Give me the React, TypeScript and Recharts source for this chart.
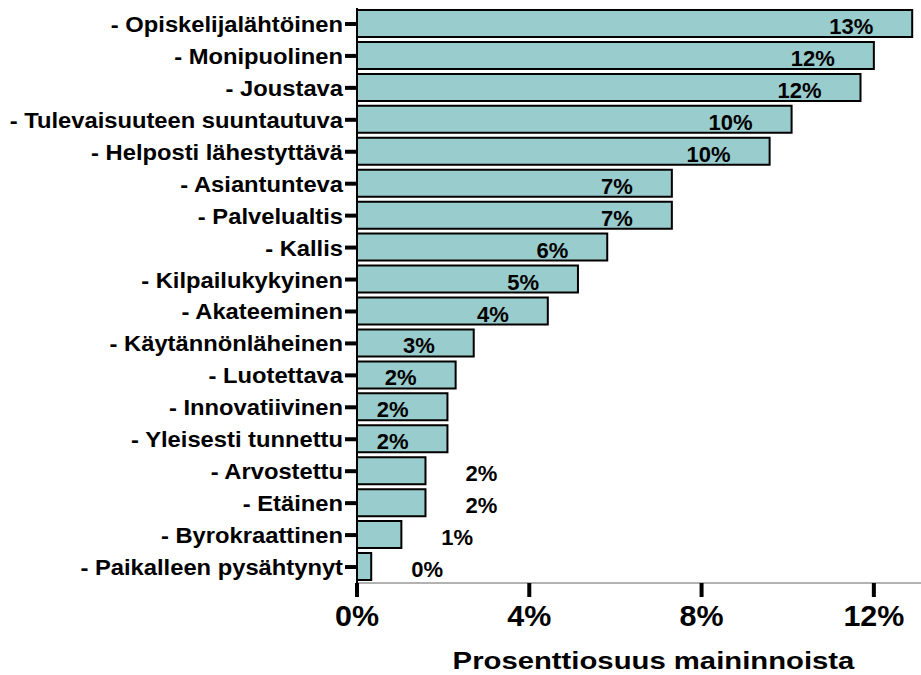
import { BarChart, Bar, XAxis, YAxis, LabelList, Label } from 'recharts'

const categories = [
  '- Opiskelijalähtöinen',
  '- Monipuolinen',
  '- Joustava',
  '- Tulevaisuuteen suuntautuva',
  '- Helposti lähestyttävä',
  '- Asiantunteva',
  '- Palvelualtis',
  '- Kallis',
  '- Kilpailukykyinen',
  '- Akateeminen',
  '- Käytännönläheinen',
  '- Luotettava',
  '- Innovatiivinen',
  '- Yleisesti tunnettu',
  '- Arvostettu',
  '- Etäinen',
  '- Byrokraattinen',
  '- Paikalleen pysähtynyt',
]

// prosenttia maininnoista
const shares = [12.89, 12.0, 11.69, 10.09, 9.58, 7.31, 7.31, 5.81, 5.13, 4.43, 2.71, 2.29, 2.1, 2.1, 1.59, 1.59, 1.03, 0.33]

const xTicks = [0, 4, 8, 12]

const FONT = '"Liberation Sans", Arial, Helvetica, sans-serif'

const data = categories.map((name, i) => ({ name, value: shares[i] }))

function CategoryTick({ x, y, payload }: any) {
  return (
    <text
      transform={`translate(${x},${y}) scale(1.08,1)`}
      textAnchor="end"
      dy={8}
      fontFamily={FONT}
      fontWeight="bold"
      fontSize={22}
      fill="#000"
    >
      {payload.value}
    </text>
  )
}

function PercentTick({ x, y, payload }: any) {
  return (
    <text
      transform={`translate(${x},${y}) scale(1.05,1)`}
      textAnchor="middle"
      dy={27}
      fontFamily={FONT}
      fontWeight="bold"
      fontSize={29}
      fill="#000"
    >
      {payload.value}%
    </text>
  )
}

function ValueLabel({ x, y, width, height, value }: any) {
  const inside = value >= 1.8
  const tx = inside ? x + width - 39 : x + width + 40
  return (
    <text
      x={tx}
      y={y + height / 2}
      dy={10.5}
      textAnchor={inside ? 'end' : 'start'}
      fontFamily={FONT}
      fontWeight="bold"
      fontSize={22}
      fill="#000"
    >
      {Math.round(value)}%
    </text>
  )
}

function AxisTitle({ viewBox }: any) {
  const cx = viewBox.x + viewBox.width / 2 - 5
  return (
    <text
      transform={`translate(${cx},${viewBox.y + 86}) scale(1.22,1)`}
      textAnchor="middle"
      fontFamily={FONT}
      fontWeight="bold"
      fontSize={24}
      fill="#000"
    >
      Prosenttiosuus maininnoista
    </text>
  )
}

export default function App() {
  return (
    <div style={{ position: 'absolute', left: 0, top: 0, width: 921, height: 675, overflow: 'hidden', background: '#fff' }}>
      <BarChart
        width={960}
        height={675}
        data={data}
        layout="vertical"
        margin={{ top: 8, right: 0, bottom: 0, left: 0 }}
        barSize={27}
      >
        <XAxis
          type="number"
          domain={[0, 14]}
          ticks={xTicks}
          height={92}
          tickSize={14}
          axisLine={{ stroke: '#999', strokeWidth: 1.5 }}
          tickLine={{ stroke: '#000', strokeWidth: 4 }}
          tick={<PercentTick />}
          interval={0}
        >
          <Label content={<AxisTitle />} />
        </XAxis>
        <XAxis
          xAxisId="top"
          orientation="top"
          type="number"
          domain={[0, 14]}
          height={0}
          tick={false}
          tickLine={false}
          axisLine={{ stroke: '#999', strokeWidth: 1.5 }}
        />
        <YAxis
          type="category"
          dataKey="name"
          width={357}
          tickSize={12}
          axisLine={{ stroke: '#000', strokeWidth: 2 }}
          tickLine={{ stroke: '#000', strokeWidth: 4 }}
          tick={<CategoryTick />}
          interval={0}
        />
        <Bar dataKey="value" fill="#99CCCC" stroke="#000" strokeWidth={2} isAnimationActive={false}>
          <LabelList dataKey="value" content={<ValueLabel />} />
        </Bar>
      </BarChart>
    </div>
  )
}
